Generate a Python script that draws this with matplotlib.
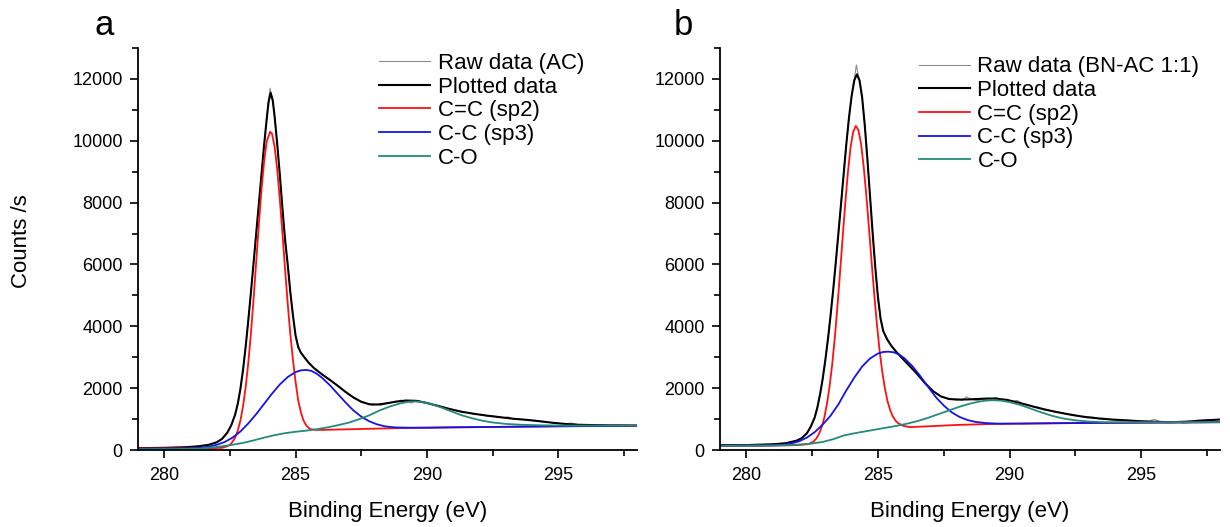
import matplotlib
matplotlib.use("Agg")
import matplotlib.pyplot as plt
from matplotlib.ticker import MultipleLocator

plt.rcParams['font.family'] = ['Liberation Sans', 'DejaVu Sans']

# ---------------- panel a : AC ----------------
raw_a_x = [279, 280, 280.8, 281.3, 281.7, 282.0, 282.2, 282.4, 282.55, 282.7, 282.8, 282.9, 283.0,
           283.1, 283.2, 283.3, 283.4, 283.5, 283.6, 283.7, 283.8, 283.9, 283.97, 284.03, 284.06,
           284.13, 284.2, 284.3, 284.4, 284.5, 284.6, 284.7, 284.8, 284.9, 285.0, 285.1, 285.2,
           285.35, 285.5, 285.7, 286.0, 286.3, 286.6, 286.9, 287.2, 287.5, 287.8, 287.9, 288.1,
           288.25, 288.4, 288.6, 288.8, 289.0, 289.2, 289.4, 289.6, 289.8, 290.0, 290.2, 290.4,
           290.6, 290.8, 291.0, 291.3, 291.6, 291.8, 292.1, 292.3, 292.6, 292.9, 293.1, 293.3,
           293.6, 293.8, 294.1, 294.3, 294.6, 294.8, 295.1, 295.3, 295.5, 295.8, 296.1, 296.4,
           296.8, 297.0, 297.3, 297.7, 298.0]
raw_a_y = [70, 75, 95, 125, 165, 255, 355, 570, 790, 1160, 1490, 2000, 2590,
           3370, 4190, 5120, 6040, 7020, 7930, 8920, 9830, 10720, 11300, 11700, 11560,
           11350, 10780, 9920, 8880, 7820, 6690, 5990, 5110, 4340, 3680, 3320, 3160,
           2970, 2830, 2640, 2460, 2260, 2090, 1870, 1710, 1550, 1490, 1450, 1480,
           1440, 1510, 1530, 1570, 1610, 1580, 1520, 1600, 1570, 1530, 1470, 1440,
           1400, 1350, 1300, 1250, 1200, 1160, 1140, 1100, 1090, 1040, 1070, 1000,
           990, 980, 960, 920, 900, 880, 850, 850, 870, 810, 810, 800,
           800, 795, 800, 790, 790]

fit_a_x = [279.0, 280.0, 280.8, 281.3, 281.7, 282.0, 282.2, 282.4, 282.55, 282.7, 282.8, 282.9,
           283.0, 283.1, 283.2, 283.3, 283.4, 283.5, 283.6, 283.7, 283.8, 283.9, 283.97, 284.05,
           284.13, 284.2, 284.3, 284.4, 284.5, 284.6, 284.7, 284.8, 284.9, 285.0, 285.1, 285.2,
           285.35, 285.5, 285.7, 286.0, 286.3, 286.6, 286.9, 287.2, 287.5, 287.8, 288.1, 288.4,
           288.8, 289.2, 289.6, 290.0, 290.4, 290.8, 291.3, 291.8, 292.3, 292.8, 293.3, 293.8,
           294.3, 294.8, 295.3, 295.8, 296.4, 297.0, 297.5, 298.0]
fit_a_y = [60, 70, 90, 120, 170, 250, 360, 560, 800, 1150, 1500, 1980,
           2600, 3350, 4200, 5100, 6050, 7000, 7950, 8900, 9850, 10700, 11250, 11550,
           11300, 10800, 9900, 8900, 7800, 6800, 6000, 5100, 4350, 3700, 3330, 3150,
           2980, 2820, 2650, 2450, 2270, 2080, 1880, 1700, 1560, 1480, 1470, 1500,
           1560, 1600, 1590, 1520, 1430, 1340, 1240, 1170, 1110, 1060, 1010, 975,
           930, 880, 840, 815, 805, 798, 795, 790]

sp2_a_x = [279.0, 281.0, 281.8, 282.2, 282.4, 282.5, 282.6, 282.7, 282.8, 282.9, 283.0, 283.1,
           283.2, 283.3, 283.4, 283.5, 283.6, 283.7, 283.8, 283.9, 284.03, 284.1, 284.2, 284.3,
           284.4, 284.5, 284.6, 284.7, 284.8, 284.9, 285.0, 285.1, 285.2, 285.3, 285.4, 285.5,
           285.6, 285.8, 286.0, 287.0, 288.0, 289.0, 290.0, 292.0, 294.0, 296.0, 298.0]
sp2_a_y = [50, 55, 60, 70, 120, 170, 265, 410, 630, 960, 1420, 2040,
           2830, 3780, 4880, 6080, 7280, 8400, 9320, 9980, 10290, 10230, 9810, 9080,
           8100, 7000, 5840, 4735, 3740, 2910, 2200, 1600, 1220, 960, 800, 710,
           670, 650, 650, 670, 690, 710, 720, 740, 760, 780, 790]

sp3_a_x = [279.0, 280.5, 281.3, 281.7, 282.0, 282.3, 282.6, 282.9, 283.2, 283.5, 283.8, 284.1,
           284.4, 284.7, 285.0, 285.2, 285.4, 285.6, 285.8, 286.0, 286.3, 286.6, 286.9, 287.2,
           287.5, 287.8, 288.1, 288.4, 288.8, 289.3, 290.0, 291.0, 293.0, 295.0, 298.0]
sp3_a_y = [40, 45, 70, 110, 170, 260, 400, 600, 860, 1160, 1490, 1820,
           2120, 2360, 2520, 2575, 2590, 2560, 2470, 2340, 2100, 1820, 1540, 1280,
           1080, 930, 830, 765, 730, 722, 722, 735, 750, 765, 785]

co_a_x = [279.0, 280.5, 281.3, 281.8, 282.2, 282.6, 283.0, 283.4, 283.8, 284.2, 284.6, 285.0,
          285.4, 285.8, 286.2, 286.6, 287.0, 287.4, 287.8, 288.2, 288.6, 289.0, 289.3, 289.55,
          289.8, 290.1, 290.5, 290.9, 291.3, 291.7, 292.1, 292.5, 293.0, 293.6, 294.4, 295.5,
          298.0]
co_a_y = [25, 30, 45, 80, 120, 170, 230, 310, 400, 480, 545, 590,
          625, 670, 730, 800, 880, 990, 1120, 1280, 1410, 1510, 1560, 1570,
          1555, 1500, 1390, 1260, 1130, 1030, 950, 890, 845, 815, 798, 790,
          790]

# ---------------- panel b : BN-AC 1:1 ----------------
raw_b_x = [279, 280, 281, 281.5, 281.9, 282.1, 282.3, 282.45, 282.6, 282.7, 282.8, 282.9, 283.0,
           283.1, 283.2, 283.3, 283.4, 283.5, 283.6, 283.7, 283.8, 283.9, 284.0, 284.1, 284.18,
           284.24, 284.3, 284.4, 284.5, 284.6, 284.7, 284.8, 284.9, 285.0, 285.1, 285.2, 285.35,
           285.5, 285.7, 285.9, 286.2, 286.5, 286.8, 287.1, 287.4, 287.7, 288.0, 288.2, 288.36,
           288.55, 288.8, 289.0, 289.2, 289.5, 289.7, 289.9, 290.1, 290.3, 290.5, 290.7, 290.9,
           291.1, 291.3, 291.5, 291.7, 291.9, 292.2, 292.4, 292.7, 292.9, 293.2, 293.4, 293.7,
           293.9, 294.2, 294.5, 294.8, 295.0, 295.3, 295.5, 295.8, 296.0, 296.3, 296.6, 296.9,
           297.1, 297.4, 297.7, 297.9]
raw_b_y = [160, 165, 185, 225, 300, 385, 545, 750, 1070, 1370, 1810, 2290, 2910,
           3570, 4360, 5170, 6090, 7020, 7990, 8940, 9910, 10740, 11460, 11980, 12450,
           12180, 11960, 11390, 10510, 9390, 8210, 6990, 5910, 4940, 4260, 3840, 3590,
           3370, 3180, 2980, 2730, 2440, 2160, 1890, 1740, 1640, 1660, 1600, 1720,
           1630, 1600, 1660, 1640, 1700, 1600, 1640, 1580, 1600, 1500, 1470, 1400,
           1390, 1300, 1300, 1230, 1220, 1150, 1150, 1080, 1070, 1060, 1010, 1000,
           980, 960, 970, 930, 930, 930, 990, 900, 880, 920, 870, 890,
           900, 950, 930, 990]

fit_b_x = [279.0, 280.0, 281.0, 281.5, 281.9, 282.1, 282.3, 282.45, 282.6, 282.7, 282.8, 282.9,
           283.0, 283.1, 283.2, 283.3, 283.4, 283.5, 283.6, 283.7, 283.8, 283.9, 284.0, 284.1,
           284.2, 284.3, 284.4, 284.5, 284.6, 284.7, 284.8, 284.9, 285.0, 285.1, 285.2, 285.35,
           285.5, 285.7, 285.9, 286.2, 286.5, 286.8, 287.1, 287.4, 287.7, 288.0, 288.4, 288.8,
           289.2, 289.5, 289.9, 290.3, 290.7, 291.1, 291.5, 291.9, 292.4, 292.9, 293.4, 293.9,
           294.5, 295.0, 295.6, 296.2, 296.8, 297.3, 298.0]
fit_b_y = [160, 160, 185, 220, 300, 380, 540, 760, 1060, 1380, 1800, 2300,
           2900, 3580, 4350, 5180, 6080, 7030, 7980, 8950, 9900, 10750, 11450, 11950,
           12150, 11950, 11400, 10500, 9400, 8200, 7000, 5900, 4950, 4250, 3850, 3580,
           3380, 3170, 2990, 2720, 2450, 2150, 1900, 1730, 1650, 1630, 1635, 1650,
           1665, 1660, 1620, 1540, 1450, 1360, 1280, 1210, 1130, 1065, 1020, 985,
           955, 930, 910, 900, 920, 955, 985]

sp2_b_x = [279.0, 281.0, 281.8, 282.1, 282.36, 282.56, 282.66, 282.76, 282.86, 282.96, 283.06,
           283.16, 283.26, 283.36, 283.46, 283.56, 283.66, 283.76, 283.86, 283.96, 284.06, 284.16,
           284.26, 284.36, 284.46, 284.56, 284.66, 284.76, 284.86, 284.96, 285.06, 285.16, 285.26,
           285.36, 285.46, 285.56, 285.66, 285.76, 285.96, 286.2, 287.0, 288.0, 289.0, 290.0,
           292.0, 294.0, 296.0, 298.0]
sp2_b_y = [140, 142, 155, 170, 190, 280, 375, 520, 735, 1040, 1480,
           2040, 2755, 3625, 4640, 5740, 6890, 8000, 8990, 9790, 10290, 10480,
           10340, 9890, 9150, 8220, 7170, 6080, 5035, 4070, 3240, 2555, 2015,
           1595, 1300, 1095, 958, 870, 782, 740, 770, 810, 835, 850,
           868, 880, 890, 900]

sp3_b_x = [279.0, 280.5, 281.3, 281.7, 282.0, 282.3, 282.6, 282.9, 283.2, 283.5, 283.8, 284.1,
           284.4, 284.7, 285.0, 285.2, 285.4, 285.6, 285.8, 286.0, 286.3, 286.6, 286.9, 287.2,
           287.5, 287.8, 288.1, 288.4, 288.7, 289.1, 289.6, 290.5, 292.0, 294.0, 296.0, 298.0]
sp3_b_y = [140, 145, 160, 210, 280, 400, 580, 820, 1110, 1480, 1930, 2340,
           2700, 2960, 3120, 3170, 3180, 3160, 3090, 2970, 2720, 2400, 2050, 1710,
           1440, 1220, 1070, 970, 910, 870, 852, 855, 868, 880, 890, 900]

co_b_x = [279.0, 281.0, 281.8, 282.4, 282.9, 283.3, 283.7, 284.1, 284.5, 284.9, 285.3, 285.7,
          286.1, 286.5, 286.9, 287.3, 287.7, 288.1, 288.5, 288.9, 289.2, 289.4, 289.7, 290.0,
          290.4, 290.8, 291.2, 291.6, 292.0, 292.5, 293.0, 293.6, 294.5, 296.0, 298.0]
co_b_y = [140, 145, 165, 200, 260, 350, 470, 540, 600, 660, 720, 780,
          850, 935, 1040, 1160, 1280, 1400, 1500, 1575, 1605, 1610, 1595, 1550,
          1460, 1340, 1220, 1110, 1025, 960, 920, 900, 895, 897, 900]

panels = [
    dict(letter='a', raw_label='Raw data (AC)', raw=(raw_a_x, raw_a_y), fit=(fit_a_x, fit_a_y),
         sp2=(sp2_a_x, sp2_a_y), sp3=(sp3_a_x, sp3_a_y), co=(co_a_x, co_a_y)),
    dict(letter='b', raw_label='Raw data (BN-AC 1:1)', raw=(raw_b_x, raw_b_y), fit=(fit_b_x, fit_b_y),
         sp2=(sp2_b_x, sp2_b_y), sp3=(sp3_b_x, sp3_b_y), co=(co_b_x, co_b_y)),
]

fig = plt.figure(figsize=(12.3, 5.27), dpi=100)
ax_rects = [[0.1122, 0.1461, 0.4057, 0.7628], [0.5854, 0.1461, 0.4065, 0.7628]]
letter_pos = [(0.077, 0.934), (0.548, 0.934)]
legend_anchor = [(0.483, 0.988), (0.397, 0.979)]

for i, p in enumerate(panels):
    ax = fig.add_axes(ax_rects[i])
    ax.plot(*p['raw'], color='#8a8a8a', lw=0.8, label=p['raw_label'])
    ax.plot(*p['fit'], color='black', lw=1.5, label='Plotted data')
    ax.plot(*p['sp2'], color='#ff1010', lw=1.3, label='C=C (sp2)')
    ax.plot(*p['sp3'], color='#1414e6', lw=1.3, label='C-C (sp3)')
    ax.plot(*p['co'], color='#238a7c', lw=1.3, label='C-O')

    ax.set_xlim(279, 298)
    ax.set_ylim(0, 13000)
    ax.xaxis.set_major_locator(MultipleLocator(5))
    ax.xaxis.set_minor_locator(MultipleLocator(2.5))
    ax.yaxis.set_major_locator(MultipleLocator(2000))
    ax.yaxis.set_minor_locator(MultipleLocator(1000))
    ax.spines['top'].set_visible(False)
    ax.spines['right'].set_visible(False)
    for s in ('left', 'bottom'):
        ax.spines[s].set_linewidth(1.3)
    ax.tick_params(which='major', direction='out', length=6, width=1.2, labelsize=13)
    ax.tick_params(which='minor', direction='out', length=4, width=1.2)
    ax.tick_params(axis='x', which='major', pad=6.5)
    ax.tick_params(axis='y', which='major', pad=5)
    ax.set_xlabel('Binding Energy (eV)', fontsize=16, labelpad=12)

    ax.legend(loc='upper left', bbox_to_anchor=legend_anchor[i], frameon=False, fontsize=16,
              handlelength=2.3, handletextpad=0.35, labelspacing=0.12, borderpad=0,
              borderaxespad=0)
    fig.text(*letter_pos[i], p['letter'], fontsize=25, va='baseline')

fig.text(22 / 1230, 0.543, 'Counts /s', rotation=90, fontsize=16, va='center', ha='center')

fig.savefig('out.png', dpi=100)
